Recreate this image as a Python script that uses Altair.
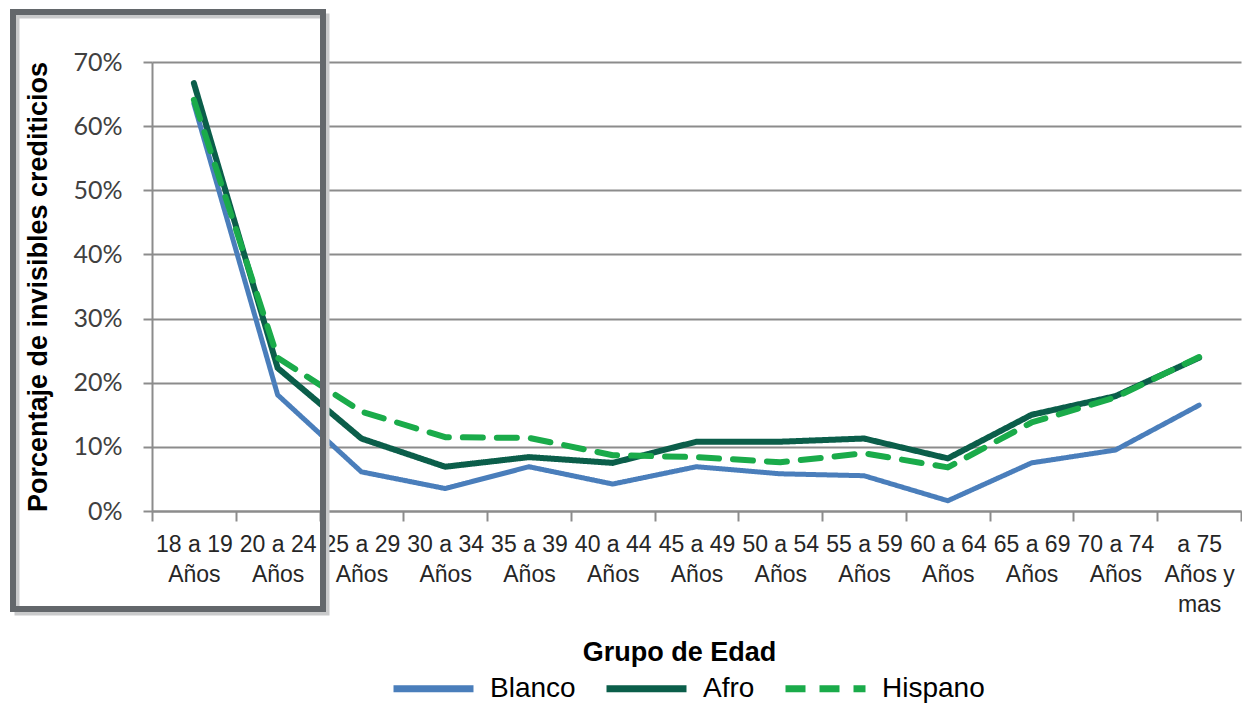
import altair as alt
import pandas as pd

# ---- data ----
categorias = ["18 a 19|Años", "20 a 24|Años", "25 a 29|Años", "30 a 34|Años", "35 a 39|Años",
              "40 a 44|Años", "45 a 49|Años", "50 a 54|Años", "55 a 59|Años", "60 a 64|Años",
              "65 a 69|Años", "70 a 74|Años", "a 75|Años y|mas"]
blanco = [63.5, 18.1, 6.1, 3.5, 6.9, 4.2, 6.9, 5.8, 5.5, 1.6, 7.5, 9.5, 16.5]
afro = [66.7, 22.3, 11.3, 6.9, 8.4, 7.5, 10.8, 10.8, 11.3, 8.2, 15.0, 17.9, 23.9]
hispano = [64.1, 23.9, 15.5, 11.5, 11.4, 8.7, 8.4, 7.6, 9.0, 6.8, 13.8, 17.7, 24.0]
series = ["Blanco", "Afro", "Hispano"]
colores = ["#4a7ebb", "#0b5e4a", "#1aab4a"]
guiones = [[1, 0], [1, 0], [20, 14]]
anchos = [5, 6, 6]
y_ticks = [0, 10, 20, 30, 40, 50, 60, 70]

rows = []
for s, vals in zip(series, [blanco, afro, hispano]):
    for c, v in zip(categorias, vals):
        rows.append({"Grupo": c, "Serie": s, "Valor": v})
df = pd.DataFrame(rows)

grid_color = "#8c8c8c"

legend = alt.Legend(
    title=None, orient="none", direction="horizontal", legendX=238, legendY=583,
    symbolType="stroke", symbolSize=6400, symbolStrokeWidth=7,
    labelFont="Liberation Sans", labelFontSize=28, labelColor="#000000",
    labelOffset=13, columnPadding=16, padding=0,
)

x_enc = alt.X(
    "Grupo:N", sort=categorias, bandPosition=0.5,
    scale=alt.Scale(type="band", domain=categorias, paddingInner=0, paddingOuter=0),
    axis=alt.Axis(
        title="Grupo de Edad", titleFont="Liberation Sans", titleFontSize=27,
        titleFontWeight="bold", titleColor="#000000", titleX=527, titleY=141,
        titleAlign="center", titleBaseline="middle",
        labelExpr="split(datum.label, '|')", labelAngle=0, labelFont="Liberation Sans",
        labelFontSize=23, labelColor="#262626", labelLineHeight=30, labelPadding=12,
        labelBaseline="top", labelOverlap=False, labelLimit=0,
        tickBand="extent", tickSize=10, tickColor=grid_color, tickWidth=2,
        domainColor=grid_color, domainWidth=2, grid=False,
    ),
)

y_enc = alt.Y(
    "Valor:Q",
    scale=alt.Scale(domain=[0, 70], nice=False, zero=True),
    axis=alt.Axis(
        values=y_ticks, labelExpr="datum.value + '%'",
        title="Porcentaje de invisibles crediticios", titleFont="Liberation Sans",
        titleFontSize=27, titleFontWeight="bold", titleColor="#000000", titlePadding=20,
        labelFont="Lato", labelFontSize=25, labelColor="#404040", labelPadding=21,
        tickSize=9, tickColor=grid_color, tickWidth=2,
        domainColor=grid_color, domainWidth=2,
        grid=True, gridColor=grid_color, gridWidth=2,
    ),
)

color_enc = alt.Color("Serie:N", scale=alt.Scale(domain=series, range=colores), legend=legend)
dash_enc = alt.StrokeDash("Serie:N", scale=alt.Scale(domain=series, range=guiones), legend=legend)

capas = []
for s, w in zip(series, anchos):
    capas.append(
        alt.Chart(df).transform_filter(alt.datum.Serie == s)
        .mark_line(strokeWidth=w, strokeCap="round", strokeJoin="round")
        .encode(x=x_enc, y=y_enc, color=color_enc, strokeDash=dash_enc)
    )

# highlight frame (decoration over the first age groups)
marco_df = pd.DataFrame({"k": [0]})
sombra = alt.Chart(marco_df).mark_rect(filled=False, stroke="#c9cacb", strokeWidth=5).encode(
    x=alt.value(-135), x2=alt.value(175), y=alt.value(-46), y2=alt.value(551))
marco = alt.Chart(marco_df).mark_rect(filled=False, stroke="#63676b", strokeWidth=6).encode(
    x=alt.value(-139), x2=alt.value(171), y=alt.value(-50), y2=alt.value(547))

chart = alt.layer(*capas, sombra, marco).properties(
    width=1089, height=449,
    autosize=alt.AutoSizeParams(type="none"),
    padding={"left": 144, "top": 54, "right": 1, "bottom": 194},
    background="#ffffff",
).configure_view(stroke=None)

chart.save("out.html", embed_options={"renderer": "svg", "actions": False})
